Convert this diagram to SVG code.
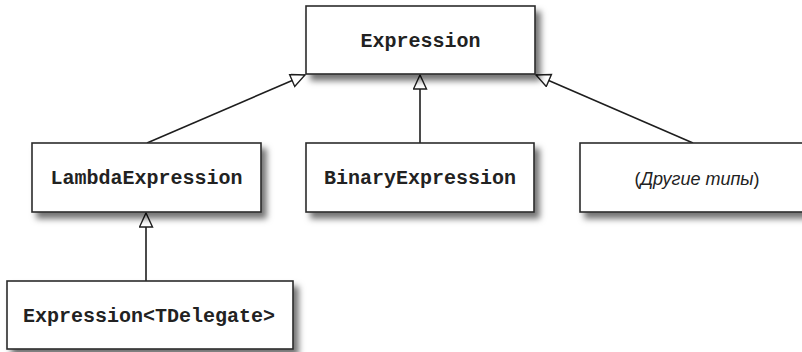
<svg xmlns="http://www.w3.org/2000/svg" width="802" height="352" viewBox="0 0 802 352">
<style>
.box{fill:#fff;stroke:#2a2a2a;stroke-width:1.6;filter:url(#sh)}
.code{font-family:"Liberation Mono",monospace;font-weight:bold;font-size:20px;fill:#222;text-anchor:middle}
.plain{font-family:"Liberation Sans",Arial,sans-serif;font-size:18px;fill:#222;text-anchor:middle}
.conn{fill:none;stroke:#1e1e1e;stroke-width:1.6;marker-end:url(#tri)}
</style>
<defs>
<filter id="sh" x="-10%" y="-20%" width="130%" height="160%">
<feDropShadow dx="5" dy="6" stdDeviation="3" flood-color="#000" flood-opacity="0.55"/>
</filter>
<marker id="tri" markerUnits="userSpaceOnUse" markerWidth="18" markerHeight="18" refX="15" refY="7" orient="auto">
<path d="M1,0.5 L15,7 L1,13.5 Z" fill="#fff" stroke="#1e1e1e" stroke-width="1.4"/>
</marker>
</defs>
<g id="connectors">
<path class="conn" d="M147,143 L305,75"/>
<path class="conn" d="M420,143 L420,75"/>
<path class="conn" d="M693,143 L536,75"/>
<path class="conn" d="M146,281 L146,213"/>
</g>
<g id="expression">
<rect class="box" x="306" y="6" width="229" height="68"/>
<text class="code" x="420.5" y="47">Expression</text>
</g>
<g id="lambda">
<rect class="box" x="32" y="143" width="229" height="69"/>
<text class="code" x="146.5" y="184">LambdaExpression</text>
</g>
<g id="binary">
<rect class="box" x="306" y="143" width="228" height="69"/>
<text class="code" x="420" y="184">BinaryExpression</text>
</g>
<g id="other">
<rect class="box" x="580" y="143" width="234" height="69"/>
<text class="plain" x="697" y="185">(<tspan font-style="italic">Другие типы</tspan>)</text>
</g>
<g id="generic">
<rect class="box" x="7" y="281" width="286" height="68"/>
<text class="code" x="149" y="322">Expression&lt;TDelegate&gt;</text>
</g>
</svg>
